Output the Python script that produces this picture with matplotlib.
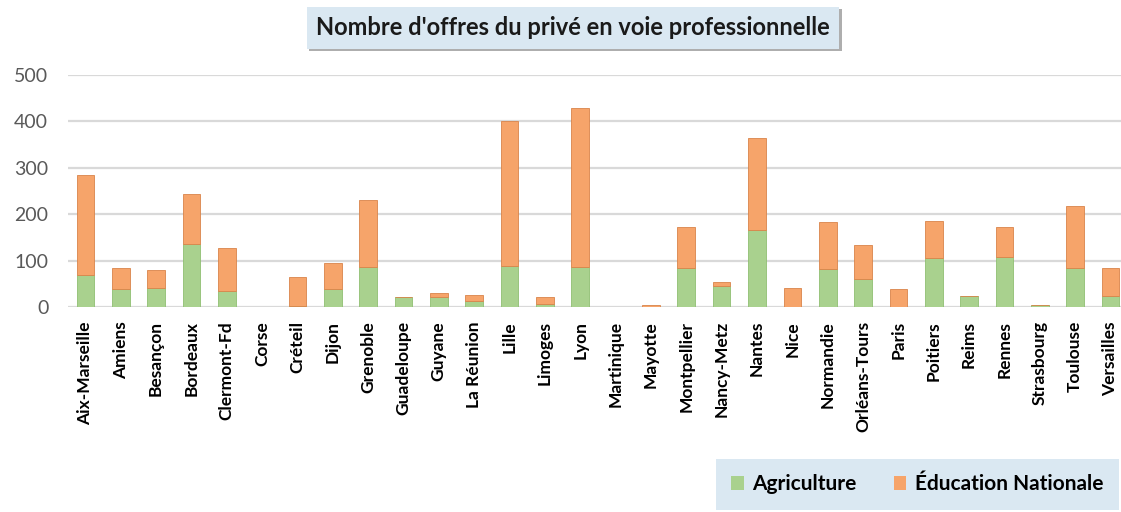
import numpy as np
import matplotlib.pyplot as plt
import matplotlib.patheffects as pe
from matplotlib.patches import Patch

academies = ['Aix-Marseille', 'Amiens', 'Besançon', 'Bordeaux', 'Clermont-Fd', 'Corse',
             'Créteil', 'Dijon', 'Grenoble', 'Guadeloupe', 'Guyane', 'La Réunion', 'Lille',
             'Limoges', 'Lyon', 'Martinique', 'Mayotte', 'Montpellier', 'Nancy-Metz',
             'Nantes', 'Nice', 'Normandie', 'Orléans-Tours', 'Paris', 'Poitiers', 'Reims',
             'Rennes', 'Strasbourg', 'Toulouse', 'Versailles']

agriculture = [70, 39, 42, 137, 35, 0, 3, 40, 86, 21, 21, 14, 89, 7, 86, 0, 0, 85, 45,
               167, 0, 83, 60, 0, 106, 24, 107, 4, 85, 25]
education = [215, 46, 39, 107, 93, 0, 63, 55, 144, 0, 9, 13, 312, 15, 342, 0, 5, 87, 10,
             196, 42, 100, 74, 40, 80, 0, 65, 0, 132, 60]

green = '#a9d18e'
orange = '#f6a46a'

plt.rcParams['font.family'] = ['Lato', 'DejaVu Sans']

fig = plt.figure(figsize=(11.21, 5.12), dpi=100)
ax = fig.add_axes([0.0604, 0.400, 0.946, 0.454])

x = np.arange(len(academies))
ax.bar(x, agriculture, width=0.5, color=green, edgecolor='#8fbf72', linewidth=0.6, zorder=3)
ax.bar(x, education, width=0.5, bottom=agriculture, color=orange, edgecolor='#d9844a',
       linewidth=0.6, zorder=3)

ax.set_ylim(0, 500)
ax.set_xlim(-0.5, len(academies) - 0.5)
ax.set_yticks([0, 100, 200, 300, 400, 500])
ax.yaxis.grid(True, color='#d9d9d9', linewidth=1.6, zorder=0)
for s in ax.spines.values():
    s.set_visible(False)
ax.tick_params(axis='both', length=0)
ax.tick_params(axis='y', labelsize=14, labelcolor='#595959', pad=14)
ax.set_xticks(x)
ax.set_xticklabels(academies, rotation=90, fontsize=12.5, fontweight='bold', color='black')
ax.tick_params(axis='x', pad=10)

title = fig.text(0.511, 0.946, "Nombre d'offres du privé en voie professionnelle", ha='center',
                 va='center', fontsize=17, fontweight='bold', color='#1a1a1a',
                 bbox=dict(boxstyle='square,pad=0.4', facecolor='#dae8f2', edgecolor='none'))
title.get_bbox_patch().set_path_effects([
    pe.SimplePatchShadow(offset=(2, -2), shadow_rgbFace='#9a9a9a', alpha=0.8), pe.Normal()])

handles = [Patch(facecolor=green, edgecolor='none'), Patch(facecolor=orange, edgecolor='none')]
leg = fig.legend(handles, ['Agriculture', 'Éducation Nationale'], loc='lower right',
                 bbox_to_anchor=(1.0, 0.0), ncol=2, frameon=True, fancybox=False,
                 prop={'size': 15, 'weight': 'bold'}, handlelength=0.6, handleheight=0.6,
                 handletextpad=0.4, columnspacing=1.8, borderpad=0.75, borderaxespad=0.1)
leg.get_frame().set_facecolor('#dae8f2')
leg.get_frame().set_edgecolor('none')
leg.get_frame().set_alpha(1)

fig.savefig('out.png', dpi=100)
